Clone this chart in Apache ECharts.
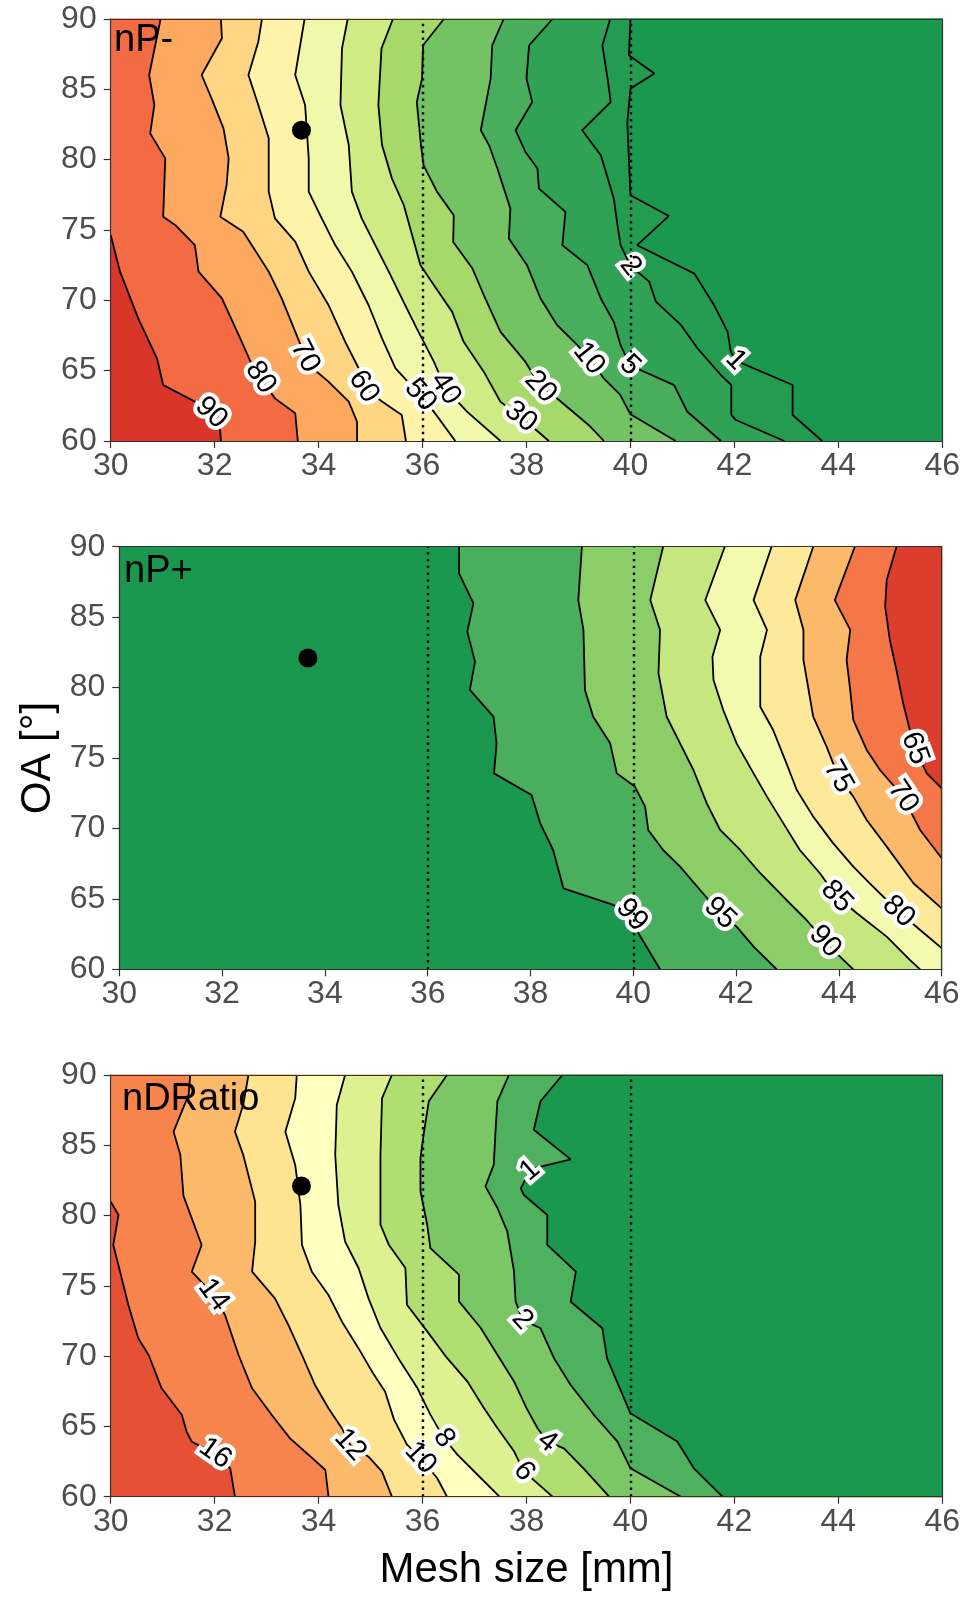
<!DOCTYPE html>
<html>
<head>
<meta charset="utf-8">
<title>nP- / nP+ / nDRatio contour panels</title>
<script src="https://cdn.jsdelivr.net/npm/echarts@6/dist/echarts.min.js"></script>
<style>
  html, body { margin: 0; padding: 0; background: #fff; }
  #main { width: 963px; height: 1598px; }
</style>
</head>
<body>
<div id="main"></div>
<script>
// axis ranges and reference marks
var xRange = [30, 46];
var yRange = [60, 90];
var xTickStep = 2;
var yTickStep = 5;
var refMeshSizes = [36, 40];
var refPoint = [33.67, 82.1];

// ---- nP- : contour lines (left to right), fill value of each region, label spots
var npmLevels = [90, 80, 70, 60, 50, 40, 30, 20, 10, 5, 2, 1];
var npmLines = [
  [[30,74.64],[30.18,72.04],[30.53,68.72],[30.89,65.88],[31.01,63.98],[31.62,62.8],[32.09,61.61],[32.12,60]],
  [[30.96,90],[30.74,86.02],[30.84,83.89],[30.76,81.87],[31.05,80.09],[31.01,75.95],[31.24,75.36],[31.62,73.93],[31.69,72.04],[32.14,70.14],[32.52,67.06],[32.72,65.4],[33.16,63.03],[33.55,61.97],[33.6,60]],
  [[32.12,90],[32.14,88.63],[31.75,86.02],[31.94,84.36],[32.17,82.23],[32.27,80.09],[32.23,78.2],[32.11,75.95],[32.55,74.88],[33.04,72.04],[33.29,70.14],[33.55,67.77],[33.81,65.4],[34.19,64.22],[34.58,62.8],[34.74,61.37],[34.74,60]],
  [[32.91,90],[32.84,88.39],[32.65,86.02],[32.84,83.89],[33.04,81.52],[33.04,77.73],[33.16,75.83],[33.55,74.17],[33.81,72.04],[34.19,69.67],[34.51,67.06],[34.77,65.17],[34.87,63.86],[35.22,62.8],[35.6,61.85],[35.68,60]],
  [[33.73,90],[33.55,86.02],[33.74,83.89],[33.81,80.09],[33.81,77.73],[34.06,75.83],[34.32,73.93],[34.64,72.04],[34.96,69.67],[35.22,67.3],[35.48,65.17],[35.96,63.25],[36.22,62.07],[36.63,60]],
  [[34.56,90],[34.45,87.91],[34.42,83.89],[34.58,81.04],[34.64,77.73],[34.83,75.83],[35.09,73.93],[35.35,72.04],[35.62,70.0],[35.89,67.99],[36.22,65.62],[36.44,63.73],[36.86,62.07],[37.5,60]],
  [[35.43,90],[35.21,87.91],[35.15,83.89],[35.22,81.04],[35.41,78.67],[35.64,76.76],[35.96,72.5],[36.22,71.07],[36.57,69.18],[36.79,67.05],[37.18,64.91],[37.5,62.78],[37.89,61.72],[38.43,60]],
  [[36.41,90],[36.01,88.13],[35.99,85.76],[35.89,84.1],[35.97,81.02],[36.02,79.6],[36.28,77.71],[36.6,76.05],[36.59,74.15],[36.96,72.26],[37.18,70.36],[37.5,67.76],[37.98,65.62],[38.27,63.85],[38.59,63.02],[39.2,61.12],[39.49,60]],
  [[37.56,90],[37.34,88.13],[37.31,85.76],[37.12,82.09],[37.28,81.02],[37.44,79.37],[37.69,76.52],[37.66,74.39],[38.01,72.5],[38.27,70.13],[38.59,68.23],[38.98,66.81],[39.2,65.86],[39.49,64.44],[39.8,63.3],[40.0,61.9],[40.87,60]],
  [[38.5,90],[38.05,88.13],[38.0,85.76],[38.11,84.1],[37.79,82.09],[37.98,80.55],[38.21,79.37],[38.24,77.94],[38.75,76.29],[38.69,73.92],[39.17,72.5],[39.43,70.13],[39.68,68.47],[39.81,66.81],[39.99,65.39],[40.2,65.03],[40.84,63.97],[41.09,62.1],[41.74,60]],
  [[39.61,90],[39.46,88.13],[39.56,85.76],[39.62,84.1],[39.07,82.09],[39.43,80.31],[39.68,77.23],[39.75,75.34],[39.81,73.92],[40.0,72.45],[40.36,71.33],[40.49,69.91],[40.97,68.25],[41.29,66.59],[41.74,64.69],[41.94,63.98],[41.94,61.85],[42.03,61.49],[42.96,60]],
  [[40.0,90],[39.97,87.42],[40.46,86.12],[40.0,85.05],[39.94,82.68],[40.0,77.47],[40.74,76.0],[40.13,73.92],[41.23,71.9],[41.61,69.65],[41.87,67.76],[41.93,66.35],[42.03,65.76],[42.15,65.52],[43.12,63.98],[43.12,61.85],[43.69,60]]
];
var npmFill = [99, 88, 76, 65, 55, 45, 35, 25, 15, 7.5, 3.5, 1.5, 0];
var npmLabels = [[31.95,62.1,90],[32.84,64.4,80],[33.65,65.88,70],[34.87,63.86,60],[35.96,63.25,50],[36.44,63.73,40],[37.89,61.72,30],[38.27,63.85,20],[39.2,65.86,10],[39.99,65.39,5],[40.0,72.45,2],[42.03,65.76,1]];

// ---- nP+
var nppLevels = [99, 95, 90, 85, 80, 75, 70, 65];
var nppLines = [
  [[36.61,90],[36.61,88.11],[36.89,85.98],[36.77,83.97],[36.92,81.84],[36.82,79.83],[37.28,77.94],[37.34,76.04],[37.29,73.91],[38.02,72.38],[38.19,70.36],[38.44,68.47],[38.64,65.75],[39.61,64.57],[39.97,63.86],[40.1,62.56],[40.52,60]],
  [[39.0,90],[38.93,86.21],[39.03,84.09],[39.06,79.83],[39.22,77.93],[39.55,76.04],[39.68,73.91],[40.03,72.97],[40.23,71.55],[40.29,69.89],[40.58,68.47],[40.91,67.29],[41.3,65.63],[41.69,63.98],[42.01,63.03],[42.34,61.61],[42.79,60]],
  [[40.58,90],[40.33,86.21],[40.52,84.09],[40.49,81.01],[40.65,77.93],[40.91,76.04],[41.17,74.15],[41.43,71.78],[41.69,69.89],[42.08,68.47],[42.47,66.82],[42.98,64.92],[43.37,63.5],[43.73,61.97],[44.02,60.9],[44.28,60]],
  [[41.78,90],[41.4,86.21],[41.69,84.09],[41.54,82.19],[41.56,80.54],[41.75,78.41],[42.01,76.04],[42.34,73.91],[42.6,72.26],[42.92,70.36],[43.24,68.47],[43.63,66.82],[43.96,65.16],[44.35,63.98],[44.93,62.32],[45.38,60.67],[45.58,60]],
  [[42.69,90],[42.34,86.21],[42.6,84.09],[42.47,82.19],[42.47,78.64],[42.72,76.99],[42.98,74.62],[43.18,72.73],[43.5,70.84],[43.89,68.94],[44.28,67.29],[44.6,66.1],[44.93,64.92],[45.16,64.1],[45.58,62.79],[46,61.5]],
  [[43.5,90],[43.15,86.21],[43.31,84.09],[43.31,81.96],[43.5,77.93],[43.76,75.81],[43.99,73.68],[44.28,72.26],[44.54,70.6],[44.93,68.71],[45.45,66.11],[46,64.33]],
  [[44.31,90],[43.92,86.21],[44.22,84.09],[44.15,81.96],[44.22,79.83],[44.28,77.7],[44.54,75.57],[44.8,74.15],[45.25,72.26],[45.58,69.89],[46,67.88]],
  [[45.12,90],[44.93,87.63],[44.9,85.74],[44.99,83.38],[45.12,81.25],[45.25,78.88],[45.38,76.99],[45.48,75.69],[45.71,73.91],[46,72.85]]
];
var nppFill = [100, 97, 92.5, 87.5, 82.5, 77.5, 72.5, 67.5, 63];
var nppLabels = [[39.97,63.86,99],[41.69,63.98,95],[43.73,61.97,90],[43.96,65.16,85],[45.16,64.1,80],[43.99,73.68,75],[45.25,72.26,70],[45.48,75.69,65]];

// ---- nDRatio
var ndrLevels = [16, 14, 12, 10, 8, 6, 4, 2, 1];
var ndrLines = [
  [[30,80.99],[30.15,80.04],[30.05,77.91],[30.18,76.01],[30.34,73.64],[30.53,71.27],[30.73,70.08],[30.98,67.71],[31.37,65.81],[31.46,64.63],[31.56,63.91],[32.01,63.08],[32.3,62.02],[32.39,60]],
  [[31.53,90],[31.5,88.6],[31.21,85.97],[31.34,84.31],[31.4,81.4],[31.75,77.91],[31.56,76.01],[31.98,74.35],[32.2,72.93],[32.46,70.08],[32.72,67.71],[33.1,65.81],[33.45,64.15],[33.81,62.97],[34.13,61.9],[34.19,60]],
  [[32.65,90],[32.55,87.9],[32.39,85.97],[32.55,84.31],[32.78,80.99],[32.78,78.14],[32.72,76.01],[33.16,74.11],[33.42,72.21],[33.68,70.08],[33.93,67.95],[34.19,66.29],[34.45,64.86],[34.61,63.68],[34.96,62.85],[35.22,61.78],[35.41,60]],
  [[33.58,90],[33.55,88.34],[33.36,85.97],[33.55,83.6],[33.65,80.75],[33.68,77.91],[33.87,76.01],[34.19,74.35],[34.45,72.45],[34.77,70.55],[35.03,68.89],[35.28,67.47],[35.45,65.5],[35.7,63.7],[35.96,62.75],[36.28,61.33],[36.47,60]],
  [[34.51,90],[34.35,87.87],[34.32,84.31],[34.38,80.75],[34.51,78.14],[34.77,76.25],[34.96,74.11],[35.19,72.0],[35.57,69.63],[35.9,67.73],[36.15,65.84],[36.41,64.17],[36.67,62.99],[37.12,61.33],[37.48,60]],
  [[35.41,90],[35.22,88.34],[35.19,84.31],[35.19,79.35],[35.35,77.93],[35.67,76.27],[35.7,73.66],[36.09,71.76],[36.47,69.87],[36.86,68.21],[37.18,66.31],[37.44,64.89],[37.76,63.23],[37.95,61.8],[38.5,60]],
  [[36.47,90],[36.12,88.13],[36.02,85.76],[35.96,84.1],[35.96,81.72],[36.09,79.35],[36.15,77.69],[36.7,75.8],[36.7,73.9],[37.12,72.0],[37.44,70.1],[37.76,68.2],[38.0,66.3],[38.21,64.89],[38.4,63.92],[38.72,63.44],[39.1,62.0],[39.59,60]],
  [[37.66,90],[37.44,88.13],[37.4,85.76],[37.37,83.62],[37.21,82.08],[37.44,80.54],[37.63,78.88],[37.76,76.03],[37.79,73.9],[37.92,72.6],[38.27,71.98],[38.53,69.84],[38.85,67.95],[39.3,65.81],[39.75,63.92],[40.0,62.02],[40.97,60]],
  [[38.69,90],[38.27,88.13],[38.14,86.11],[38.85,84.0],[38.08,83.3],[37.89,81.94],[37.95,81.46],[38.4,80.04],[38.4,77.91],[38.95,76.01],[38.85,73.87],[39.46,71.98],[39.55,69.84],[40.0,65.93],[40.9,63.92],[41.22,62.02],[41.77,60]]
];
var ndrFill = [16.8, 15, 13, 11, 9, 7, 5, 3, 1.5, 0];
var ndrLabels = [[32.01,63.08,16],[31.98,74.35,14],[34.61,63.68,12],[35.96,62.75,10],[36.41,64.17,8],[37.95,61.8,6],[38.4,63.92,4],[37.92,72.6,2],[38.02,83.3,1]];

var FONT = '"Liberation Sans", Arial, Helvetica, sans-serif';
var ramp = ['#1a9850','#66bd63','#a6d96a','#d9ef8b','#ffffbf','#fee08b','#fdae61','#f46d43','#d73027'];

var panels = [
  { title: 'nP-', levels: npmLevels, lines: npmLines, fill: npmFill, labels: npmLabels,
    vmin: 0, vmax: 100, colors: ramp,
    grid: { left: 110.7, top: 19, width: 831.6, height: 422 }, titlePos: [114, 22] },
  { title: 'nP+', levels: nppLevels, lines: nppLines, fill: nppFill, labels: nppLabels,
    vmin: 62, vmax: 100, colors: ramp.slice().reverse(),
    grid: { left: 119.3, top: 546.7, width: 822.4, height: 422.6 }, titlePos: [124, 553] },
  { title: 'nDRatio', levels: ndrLevels, lines: ndrLines, fill: ndrFill, labels: ndrLabels,
    vmin: 0, vmax: 18, colors: ramp,
    grid: { left: 110.7, top: 1075, width: 831.6, height: 421.7 }, titlePos: [122, 1081] }
];

// position of a boundary point along the plot frame, clockwise from top-left
function perim(p) {
  var e = 1e-6;
  if (p[1] >= yRange[1] - e) return (p[0] - xRange[0]) / (xRange[1] - xRange[0]);
  if (p[0] >= xRange[1] - e) return 1 + (yRange[1] - p[1]) / (yRange[1] - yRange[0]);
  if (p[1] <= yRange[0] + e) return 2 + (xRange[1] - p[0]) / (xRange[1] - xRange[0]);
  return 3 + (p[1] - yRange[0]) / (yRange[1] - yRange[0]);
}
var corners = [[xRange[0], yRange[1]], [xRange[1], yRange[1]], [xRange[1], yRange[0]], [xRange[0], yRange[0]]];

// region lying on the far (right) side of a contour line
function rightOf(line) {
  var pts = line.slice();
  var a = perim(line[line.length - 1]);
  var b = perim(line[0]);
  if (b > a) b -= 4;
  for (var k = Math.floor(a); k > b; k--) {
    if (k === a) continue;
    pts.push(corners[((k % 4) + 4) % 4]);
  }
  return pts;
}

function fillRenderer(lines) {
  return function (params, api) {
    var k = api.value(0);
    var pts = k === 0 ? corners : rightOf(lines[k - 1]);
    var c = api.visual('color');
    return {
      type: 'polygon',
      shape: { points: pts.map(function (p) { return api.coord(p); }) },
      style: { fill: c, stroke: c, lineWidth: 0.6 }
    };
  };
}

function labelRenderer(levels, lines) {
  return function (params, api) {
    var lv = api.value(2);
    var line = lines[levels.indexOf(lv)];
    var px = line.map(function (p) { return api.coord(p); });
    var target = api.coord([api.value(0), api.value(1)]);
    var cum = [0];
    for (var i = 1; i < px.length; i++) {
      cum.push(cum[i - 1] + Math.hypot(px[i][0] - px[i - 1][0], px[i][1] - px[i - 1][1]));
    }
    var best = null;
    for (i = 0; i < px.length - 1; i++) {
      var ax = px[i][0], ay = px[i][1];
      var dx = px[i + 1][0] - ax, dy = px[i + 1][1] - ay;
      var L2 = dx * dx + dy * dy || 1;
      var t = ((target[0] - ax) * dx + (target[1] - ay) * dy) / L2;
      t = Math.max(0, Math.min(1, t));
      var qx = ax + t * dx, qy = ay + t * dy;
      var d = (qx - target[0]) * (qx - target[0]) + (qy - target[1]) * (qy - target[1]);
      if (!best || d < best.d) best = { d: d, x: qx, y: qy, s: cum[i] + t * Math.sqrt(L2) };
    }
    function at(s) {
      s = Math.max(0, Math.min(cum[cum.length - 1], s));
      for (var j = 0; j < px.length - 1; j++) {
        if (s <= cum[j + 1] || j === px.length - 2) {
          var seg = cum[j + 1] - cum[j] || 1;
          var u = (s - cum[j]) / seg;
          return [px[j][0] + u * (px[j + 1][0] - px[j][0]), px[j][1] + u * (px[j + 1][1] - px[j][1])];
        }
      }
    }
    var p0 = at(best.s - 16), p1 = at(best.s + 16);
    var ang = Math.atan2(p1[1] - p0[1], p1[0] - p0[0]);
    if (ang > Math.PI / 2) ang -= Math.PI;
    if (ang <= -Math.PI / 2) ang += Math.PI;
    var font = '29px ' + FONT;
    return {
      type: 'group',
      children: [
        { type: 'text', x: best.x, y: best.y, rotation: -ang,
          style: { text: String(lv), font: font, align: 'center', verticalAlign: 'middle',
                   fill: '#fff', stroke: '#fff', lineWidth: 8, lineJoin: 'round' } },
        { type: 'text', x: best.x, y: best.y, rotation: -ang,
          style: { text: String(lv), font: font, align: 'center', verticalAlign: 'middle', fill: '#000' } }
      ]
    };
  };
}

var grids = [], xAxes = [], yAxes = [], series = [], visualMaps = [], graphics = [];

panels.forEach(function (pn, i) {
  grids.push(Object.assign({ outerBoundsMode: 'none', containLabel: false }, pn.grid));
  var frame = { show: true, lineStyle: { color: '#333', width: 1.2 } };
  xAxes.push({
    gridIndex: i, type: 'value', min: xRange[0], max: xRange[1], interval: xTickStep, z: 10,
    axisLine: frame, splitLine: { show: false },
    axisTick: { show: true, length: 7, lineStyle: { color: '#333', width: 1.2 } },
    axisLabel: { fontSize: 32, color: '#4d4d4d', fontFamily: FONT, margin: 9 }
  });
  xAxes.push({
    gridIndex: i, type: 'value', position: 'top', min: xRange[0], max: xRange[1], z: 10,
    axisLine: frame, axisTick: { show: false }, axisLabel: { show: false }, splitLine: { show: false }
  });
  yAxes.push({
    gridIndex: i, type: 'value', min: yRange[0], max: yRange[1], interval: yTickStep, z: 10,
    axisLine: frame, splitLine: { show: false },
    axisTick: { show: true, length: 7, lineStyle: { color: '#333', width: 1.2 } },
    axisLabel: { fontSize: 32, color: '#4d4d4d', fontFamily: FONT, margin: 14 }
  });
  yAxes.push({
    gridIndex: i, type: 'value', position: 'right', min: yRange[0], max: yRange[1], z: 10,
    axisLine: frame, axisTick: { show: false }, axisLabel: { show: false }, splitLine: { show: false }
  });

  var xi = 2 * i, yi = 2 * i;

  visualMaps.push({
    type: 'continuous', show: false, seriesIndex: series.length, dimension: 1,
    min: pn.vmin, max: pn.vmax, inRange: { color: pn.colors }
  });
  series.push({
    type: 'custom', xAxisIndex: xi, yAxisIndex: yi, z: 1, silent: true,
    renderItem: fillRenderer(pn.lines),
    data: pn.fill.map(function (v, k) { return [k, v]; })
  });

  series.push({
    type: 'line', xAxisIndex: xi, yAxisIndex: yi, z: 2, data: [], silent: true,
    markLine: {
      silent: true, symbol: ['none', 'none'], label: { show: false },
      lineStyle: { color: '#000', width: 2.4, type: [2.4, 4.4] },
      data: refMeshSizes.map(function (v) { return { xAxis: v }; })
    }
  });

  pn.lines.forEach(function (ln, k) {
    series.push({
      type: 'line', name: pn.title + ' ' + pn.levels[k], xAxisIndex: xi, yAxisIndex: yi, z: 3,
      data: ln, showSymbol: false, symbol: 'none', silent: true,
      lineStyle: { color: '#000', width: 1.8 }
    });
  });

  series.push({
    type: 'custom', xAxisIndex: xi, yAxisIndex: yi, z: 4, silent: true,
    renderItem: labelRenderer(pn.levels, pn.lines),
    data: pn.labels
  });

  series.push({
    type: 'scatter', xAxisIndex: xi, yAxisIndex: yi, z: 5, silent: true,
    symbolSize: 19, itemStyle: { color: '#000', opacity: 1 },
    data: [refPoint]
  });

  graphics.push({
    type: 'text', left: pn.titlePos[0], top: pn.titlePos[1], z: 20,
    style: { text: pn.title, font: '38px ' + FONT, fill: '#000' }
  });
});

graphics.push({
  type: 'text', x: 38, y: 758, rotation: Math.PI / 2, z: 20,
  style: { text: 'OA [°]', font: '42px ' + FONT, fill: '#000', align: 'center', verticalAlign: 'middle' }
});
graphics.push({
  type: 'text', x: 526.5, y: 1570, z: 20,
  style: { text: 'Mesh size [mm]', font: '42px ' + FONT, fill: '#000', align: 'center', verticalAlign: 'middle' }
});

var chart = echarts.init(document.getElementById('main'), null, { renderer: 'canvas' });
chart.setOption({
  animation: false,
  backgroundColor: '#fff',
  grid: grids,
  xAxis: xAxes,
  yAxis: yAxes,
  visualMap: visualMaps,
  series: series,
  graphic: graphics
});
</script>
</body>
</html>
